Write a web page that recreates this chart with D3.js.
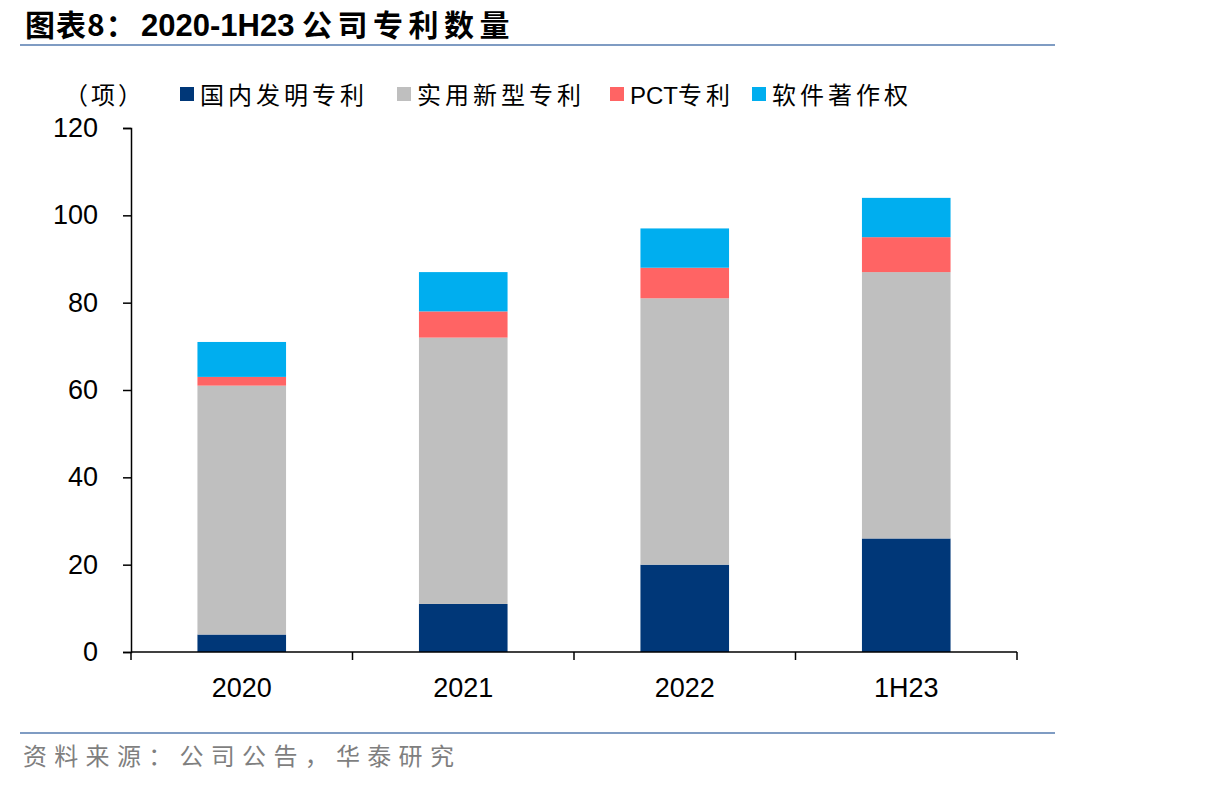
<!DOCTYPE html>
<html><head><meta charset="utf-8">
<script src="https://cdn.jsdelivr.net/npm/d3@7"></script>
<style>body{margin:0;background:#fff;} svg{display:block;}</style>
</head><body>
<svg id="c" width="1206" height="787"></svg>
<script>
const categories = ["2020", "2021", "2022", "1H23"];
const seriesNames = ["国内发明专利", "实用新型专利", "PCT专利", "软件著作权"];
const seriesColors = ["#003778", "#bfbfbf", "#ff6464", "#00aeef"];
const invention = [4, 11, 20, 26];
const utility = [57, 61, 61, 61];
const pct = [2, 6, 7, 8];
const software = [8, 9, 9, 9];
const yTicks = [0, 20, 40, 60, 80, 100, 120];

const svg = d3.select("#c");
const cjk = "'Noto Sans CJK SC', sans-serif";
const latin = "'Liberation Sans', Arial, sans-serif";

// title
const t = svg.append("text").attr("x", 25).attr("y", 36)
  .attr("font-weight", "bold").attr("font-size", 30).attr("fill", "#000");
t.append("tspan").attr("font-family", cjk).attr("letter-spacing", 1).text("图表8：");
t.append("tspan").attr("x", 141).attr("font-family", latin).attr("font-size", 31).text("2020-1H23");
t.append("tspan").attr("x", 302).attr("font-family", cjk).attr("letter-spacing", 5.5).text("公司专利数量");

svg.append("line").attr("x1", 20).attr("x2", 1055).attr("y1", 45).attr("y2", 45)
  .attr("stroke", "#7f9cc3").attr("stroke-width", 2);
svg.append("line").attr("x1", 20).attr("x2", 1055).attr("y1", 733).attr("y2", 733)
  .attr("stroke", "#7f9cc3").attr("stroke-width", 2);
svg.append("text").attr("x", 23).attr("y", 765)
  .attr("font-family", cjk).attr("font-size", 24).attr("fill", "#7f7f7f").attr("letter-spacing", 7.3)
  .text("资料来源：公司公告，华泰研究");

const x = d3.scaleBand().domain(categories).range([131, 1017]).paddingInner(0.6).paddingOuter(0.3);
const y = d3.scaleLinear().domain([0, 120]).range([652, 128]);

const rows = categories.map((c, i) => ({cat: c, s0: invention[i], s1: utility[i], s2: pct[i], s3: software[i]}));
const stack = d3.stack().keys(["s0", "s1", "s2", "s3"])(rows);

const g = svg.append("g");
stack.forEach((layer, li) => {
  g.selectAll(null).data(layer).enter().append("rect")
    .attr("x", d => x(d.data.cat))
    .attr("width", x.bandwidth())
    .attr("y", d => y(d[1]))
    .attr("height", d => y(d[0]) - y(d[1]))
    .attr("fill", seriesColors[li]);
});

// y axis
const yAxis = d3.axisLeft(y).tickValues(yTicks).tickSize(8).tickPadding(25);
const ya = svg.append("g").attr("transform", "translate(131,0)").call(yAxis);
ya.select(".domain").attr("stroke", "#000").attr("stroke-width", 1.5);
ya.selectAll(".tick line").attr("stroke", "#000").attr("stroke-width", 1.5);
ya.selectAll("text").attr("font-family", latin).attr("font-size", 27).attr("fill", "#000");

// x axis: ticks at category boundaries
const xa = svg.append("g").attr("transform", "translate(0,652)");
xa.append("line").attr("x1", 131).attr("x2", 1017).attr("stroke", "#000").attr("stroke-width", 1.5);
const bounds = d3.range(categories.length + 1).map(i => 131 + i * (1017 - 131) / categories.length);
xa.selectAll(".bt").data(bounds).enter().append("line")
  .attr("x1", d => d).attr("x2", d => d).attr("y1", 0).attr("y2", 8)
  .attr("stroke", "#000").attr("stroke-width", 1.5);
xa.selectAll(".lb").data(categories).enter().append("text")
  .attr("x", d => x(d) + x.bandwidth() / 2).attr("y", 45)
  .attr("text-anchor", "middle").attr("font-family", latin).attr("font-size", 27).attr("fill", "#000")
  .text(d => d);

// legend
svg.append("text").attr("x", 64).attr("y", 104)
  .attr("font-family", cjk).attr("font-size", 24).attr("fill", "#000").attr("letter-spacing", 3)
  .text("（项）");
const legendX = [180, 397, 610, 752];
seriesNames.forEach((n, i) => {
  svg.append("rect").attr("x", legendX[i]).attr("y", 87).attr("width", 14).attr("height", 14)
    .attr("fill", seriesColors[i]);
  const tx = svg.append("text").attr("x", legendX[i] + 20).attr("y", 104)
    .attr("font-size", 24).attr("fill", "#000");
  const m = n.match(/^([A-Za-z]*)(.*)$/);
  if (m[1]) tx.append("tspan").attr("font-family", latin).text(m[1]);
  tx.append("tspan").attr("font-family", cjk).attr("letter-spacing", 4).text(m[2]);
});
</script>
</body></html>
